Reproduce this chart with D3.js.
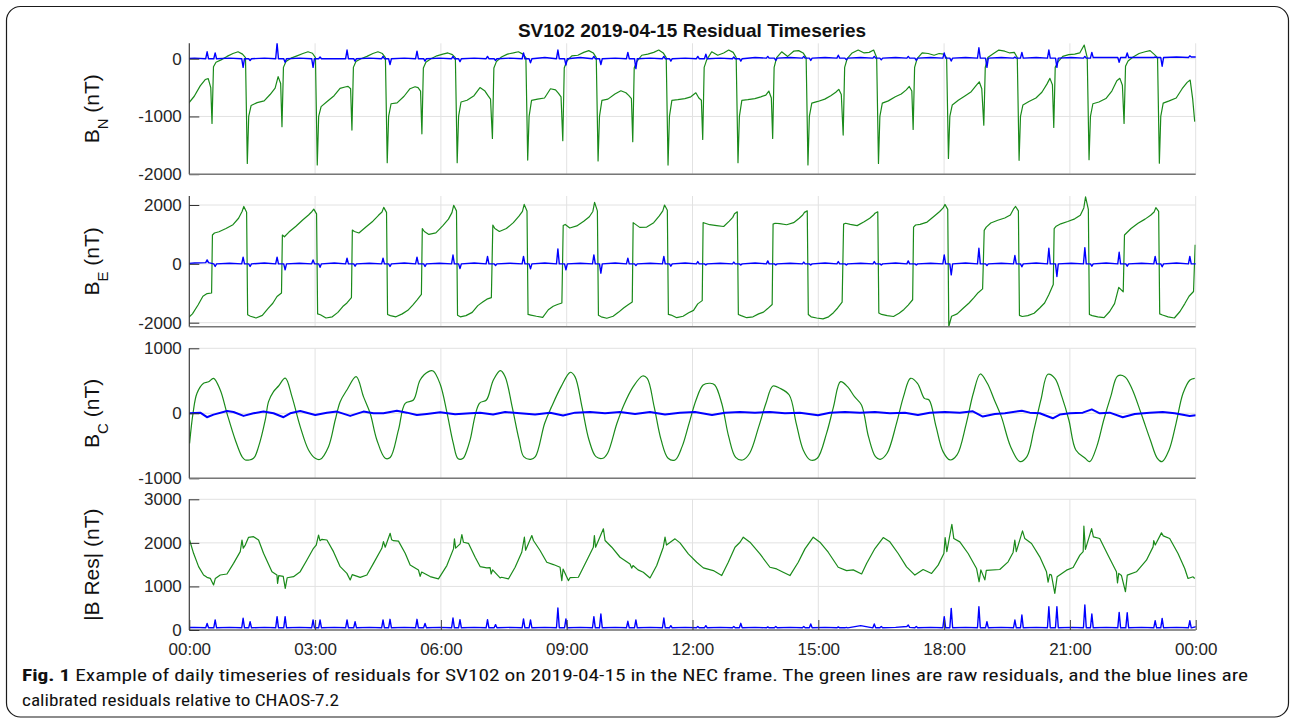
<!DOCTYPE html>
<html><head><meta charset="utf-8">
<script src="https://cdn.jsdelivr.net/npm/d3@7"></script>
<style>body{margin:0;background:#fff}svg{display:block}</style>
</head><body><svg id="c" width="1290" height="723"></svg>
<script>
const N = null;
// ---- axis ticks (time in minutes since 00:00) ----
const timeTicks = [0,180,360,540,720,900,1080,1260,1440];
const timeTickLabels = ["00:00","03:00","06:00","09:00","12:00","15:00","18:00","21:00","00:00"];
const bnTicks = [-2000,-1000,0];
const beTicks = [-2000,0,2000];
const bcTicks = [-1000,0,1000];
const bresTicks = [0,1000,2000,3000];
const titleText = "SV102 2019-04-15 Residual Timeseries";

// ---- orbit starts (minute of the southern/shallow polar crossing) ----
const orbitStart = [-67.5,32.5,132.6,232.7,332.8,433.7,534.4,634.5,734.6,834.7,935.6,1035.7,1136.8,1236.9,1337.5,1438.6];

// ---- B_N raw (green): sample minutes within each orbit, values per orbit ----
const bnOffsets = [0,2.1,5.7,12.9,21.5,30.0,37.2,43.6,47.9,50.5,52.5,56.0,64.6,74.6,83.1,90.3,94.6,98.2];
const bnRaw = [
 [N,N,N,N,N,N,N,N,N,N,N,N,-800,-650,-470,-360,-345,-500],
 [-1120,-140,-60,-20,40,90,120,80,20,-1813,-1000,-810,-760,-730,-620,-510,-310,-430],
 [-1178,-150,-50,10,50,90,120,95,20,-1840,-1000,-830,-740,-640,-513,-490,-480,-520],
 [-1236,-150,-50,0,40,90,120,90,20,-1800,-1000,-780,-765,-650,-520,-485,-500,-560],
 [-1300,-160,-60,0,50,80,100,70,20,-1800,-1000,-750,-720,-640,-500,-560,-640,-700],
 [-1380,-160,-50,30,80,100,120,80,20,-1755,-1000,-720,-700,-680,-520,-540,-600,-660],
 [-1420,-160,-40,50,60,110,140,100,20,-1770,-1000,-720,-700,-610,-555,-590,-640,-690],
 [-1437,-160,-50,60,80,110,150,100,20,-1842,-1000,-720,-710,-690,-660,-590,-680,-720],
 [-1398,-150,-20,120,60,100,150,110,20,-1800,-1000,-720,-710,-690,-660,-630,-560,-680],
 [-1380,-150,20,120,40,130,140,100,20,-1840,-1000,-770,-740,-700,-640,-580,-530,-620],
 [-1322,-150,0,100,150,100,110,150,20,-1813,-1000,-770,-730,-660,-610,-540,-480,-560],
 [-1224,-150,0,100,90,60,90,80,20,-1727,-1000,-800,-720,-640,-570,-460,-400,-520],
 [-1150,-150,20,80,150,130,100,110,20,-1760,-1000,-800,-740,-680,-580,-440,-340,-450],
 [-1190,-150,-60,40,70,80,100,237,20,-1750,-1000,-780,-750,-690,-560,-380,-340,-460],
 [-1120,-130,-40,30,90,120,140,70,20,-1810,-1000,-770,-730,-680,-520,-410,-370,-700],
 [-1090]
];

// ---- B_E raw (green) ----
const beOffsets = [0.6,3.5,10,20,30,38,43,45.5,49.5,51,55,63,72,80,87,93,99.4];
const beRaw = [
 [N,N,N,N,N,N,N,N,N,N,N,-1900,-1700,-1400,-1100,-1010,-990],
 [980,1050,1090,1200,1330,1550,1780,1950,1750,-1730,-1780,-1840,-1750,-1520,-1340,-1110,-990],
 [980,920,1080,1280,1500,1660,1780,1860,1700,-1700,-1730,-1840,-1800,-1650,-1450,-1330,-1150],
 [1150,1100,1050,1250,1450,1650,1760,1920,1750,-1720,-1760,-1800,-1700,-1580,-1400,-1230,-1040],
 [1200,1100,1000,1050,1300,1520,1740,1990,1800,-1750,-1800,-1760,-1650,-1420,-1300,-1200,-1150],
 [1320,1200,1100,1200,1400,1620,1780,2020,1800,-1720,-1740,-1780,-1820,-1560,-1440,-1380,-1330],
 [1300,1340,1220,1290,1450,1600,1780,2090,1800,-1750,-1800,-1850,-1780,-1640,-1500,-1400,-1300],
 [1400,1350,1240,1250,1400,1630,1800,2000,1820,-1720,-1740,-1830,-1780,-1660,-1580,-1360,-1250],
 [1400,1380,1330,1300,1270,1450,1580,1700,1770,-1720,-1760,-1830,-1800,-1700,-1640,-1520,-1380],
 [1350,1380,1370,1330,1400,1550,1660,1750,1800,-1720,-1800,-1840,-1870,-1800,-1660,-1500,-1300],
 [1350,1380,1340,1300,1430,1550,1650,1720,1770,-1670,-1720,-1760,-1790,-1680,-1550,-1400,-1220],
 [1250,1320,1340,1420,1620,1780,1900,2020,1850,-2130,-1780,-1700,-1500,-1330,-1150,-980,-850],
 [1140,1250,1390,1480,1560,1660,1880,1950,1800,-1750,-1790,-1760,-1680,-1500,-1330,-1050,-700],
 [1200,1280,1360,1440,1530,1650,1900,2280,1850,-1720,-1760,-1800,-1830,-1620,-1350,-800,-950],
 [980,1050,1200,1380,1520,1650,1760,1910,1780,-1700,-1740,-1800,-1840,-1620,-1350,-1100,-940],
 [650]
];

// ---- calibrated (blue) series: sample minutes within each orbit ----
const calOffsets = [-9,-7,-5,2.5,4.5,6.5,25,42.5,44.5,46.5,52.5,54.5,56.5,75];
const bnCal = [
 [N,N,N,N,N,N,N,N,N,N,N,0,0,10],
 [0,120,0,0,100,0,10,0,-150,0,0,-30,0,10],
 [0,267,0,0,-60,0,10,0,-150,0,0,30,0,0],
 [0,150,0,0,-40,0,10,0,40,0,0,-100,0,10],
 [0,130,0,0,-40,0,10,0,40,0,0,-50,0,10],
 [0,40,0,0,-30,0,10,0,100,0,0,-70,0,20],
 [0,150,0,0,-110,0,20,0,40,0,0,-100,0,10],
 [0,110,0,0,-170,0,10,0,40,0,0,-40,0,10],
 [0,40,0,0,80,0,10,0,30,0,0,-40,0,20],
 [10,40,10,10,-30,10,20,10,40,10,10,-30,10,20],
 [10,60,10,10,-20,10,20,10,40,10,10,-20,10,20],
 [10,40,10,10,-30,10,20,10,100,10,10,-40,10,20],
 [10,190,10,10,-150,10,20,10,30,10,10,110,10,20],
 [10,150,10,10,-150,10,20,10,40,10,10,110,20,20],
 [20,-60,20,20,100,20,20,20,30,20,20,-130,20,30],
 [20,50,30,30]
];
const beCal = [
 [N,N,N,N,N,N,N,N,N,N,N,0,0,30],
 [40,135,40,0,-90,0,20,0,226,0,0,-90,0,30],
 [0,226,0,0,-203,0,20,0,135,0,0,-115,0,30],
 [0,192,0,0,-80,0,20,0,192,0,0,-90,0,30],
 [0,226,0,0,-90,0,20,0,300,0,0,-160,0,30],
 [0,250,0,0,-60,0,20,0,250,0,0,-170,0,30],
 [0,508,0,0,-200,0,20,0,305,0,0,-317,0,30],
 [0,192,0,0,-60,0,20,0,250,0,0,-80,0,30],
 [0,80,0,0,-40,0,20,0,60,0,0,-40,0,30],
 [0,100,0,0,-40,0,20,0,60,0,0,-40,0,30],
 [0,80,0,0,-40,0,20,0,80,0,0,-40,0,30],
 [0,100,0,0,-40,0,20,0,305,0,0,-373,0,30],
 [0,530,0,0,-60,0,20,0,283,0,0,-100,0,30],
 [0,530,0,0,-430,0,20,0,553,0,0,-80,0,30],
 [0,395,0,0,-80,0,20,0,250,0,0,-100,0,30],
 [0,250,0,0]
];
const bresCal = [
 [N,N,N,N,N,N,N,N,N,N,N,50,50,60],
 [50,150,50,50,230,50,60,50,270,50,50,190,50,60],
 [50,306,50,50,306,50,60,50,230,50,50,230,50,60],
 [50,230,50,50,190,50,60,50,230,50,50,245,50,60],
 [50,245,50,50,150,50,60,50,276,50,50,237,50,60],
 [50,237,50,50,123,50,60,50,253,50,50,230,50,60],
 [50,506,50,50,253,50,60,50,306,50,50,368,50,60],
 [50,200,50,50,230,50,60,50,276,50,50,100,50,60],
 [50,80,50,50,100,50,60,50,80,50,50,153,50,60],
 [50,70,50,50,80,50,60,50,80,50,50,138,50,60],
 [50,70,50,50,60,50,100,50,137,50,50,80,50,60],
 [80,115,60,50,80,50,60,50,305,50,50,496,50,60],
 [50,534,50,50,190,50,60,50,229,50,50,343,50,60],
 [50,534,50,50,534,50,60,50,573,50,50,366,50,60],
 [50,405,50,50,397,50,60,50,214,50,50,267,50,60],
 [50,214,50,75]
];

// ---- B_C raw (green) [minute, nT] ----
const bcRaw = [[0.4,-462],[5.3,0],[11,308],[20.4,462],[27.6,485],[34.7,538],[44.3,358],[53.9,0],[65.8,-410],[75.4,-667],[80.1,-718],[91.9,-692],[99.1,-513],[108.7,-103],[113.4,179],[120.5,333],[127.7,420],[137.3,540],[146.9,256],[158.7,-205],[170.6,-564],[180.2,-692],[187.3,-708],[199.2,-513],[208.8,-103],[215.9,179],[225.5,359],[238.8,563],[249.2,256],[258.8,0],[268.4,-410],[280.3,-692],[287.4,-680],[299.3,-256],[308.9,154],[320.7,205],[330.3,513],[342.2,641],[348.9,650],[358.9,450],[368.9,0],[377.5,-450],[384.7,-700],[391.8,-690],[397.5,-560],[401.8,-410],[415.1,154],[425.1,205],[435.1,513],[445.2,656],[451.9,564],[461.9,103],[471.9,-410],[478.5,-667],[488.5,-708],[495.2,-667],[508.5,-154],[518.5,103],[532,410],[545.1,631],[551.8,564],[561.8,103],[571.9,-410],[581.9,-667],[591.9,-692],[598.5,-615],[611.9,-154],[621.8,128],[635.2,410],[648.5,574],[655.2,538],[665.1,103],[675.1,-410],[685.1,-692],[695.1,-718],[705.1,-513],[715.1,-154],[725.1,205],[735.2,436],[745.2,462],[751.9,436],[761.8,154],[771.8,-359],[781.8,-677],[791.8,-718],[801.8,-615],[814.8,-205],[825.1,154],[835.1,420],[845.1,385],[858.4,282],[868.4,-154],[878.4,-564],[888.5,-718],[898.5,-692],[911.8,-308],[921.8,103],[931.8,487],[941.8,410],[951.8,256],[961.8,128],[971.8,-359],[981.8,-667],[988.6,-708],[998.4,-615],[1011.9,-154],[1021.9,256],[1031.9,538],[1041.9,462],[1051.8,230],[1058.5,205],[1068.5,-205],[1078.5,-590],[1088.5,-718],[1098.5,-641],[1111.8,-154],[1121.8,308],[1131.8,605],[1141.8,462],[1151.9,205],[1161.9,-51],[1175.2,-513],[1188.5,-744],[1198.5,-667],[1208.5,-256],[1218.5,205],[1228.5,600],[1238.5,538],[1248.5,256],[1258.5,-103],[1268.5,-564],[1281.9,-692],[1288.4,-744],[1298.4,-513],[1308.4,-103],[1318.4,256],[1328.4,574],[1338.5,564],[1348.5,385],[1361.8,0],[1375.1,-410],[1385.1,-692],[1391.9,-744],[1401.9,-564],[1411.9,-154],[1421.9,308],[1431.9,513],[1438.6,538]];

// ---- B_C calibrated (blue) [minute, nT] ----
const bcCal = [[0,0],[15.7,10],[25.3,-60],[34.7,-20],[53.9,36],[63.3,20],[77.6,-40],[91.9,0],[106.2,26],[120.5,0],[134.8,-60],[144.4,0],[158.7,36],[180.2,-26],[196.9,10],[211.2,26],[230.2,-40],[249.2,26],[263.5,0],[277.8,0],[297,40],[311.3,10],[325.6,-26],[339.9,-10],[358.9,15],[380.4,-15],[401.8,0],[416.1,10],[434.7,-20],[451.9,20],[473.3,0],[494.8,-20],[516.2,10],[534.8,-35],[552,10],[573.4,20],[594.9,0],[616.3,20],[637.8,-10],[659.2,20],[680.7,-20],[702.1,10],[723.6,20],[747.9,-25],[766.5,10],[787.9,20],[809.4,10],[830.8,20],[852.3,0],[873.7,10],[899.5,-30],[916.6,10],[938.1,20],[959.5,10],[981,20],[1002.4,0],[1023.9,10],[1042.5,-25],[1059.6,10],[1081.1,20],[1102.5,10],[1121.1,30],[1135.4,-50],[1152.6,-10],[1166.9,0],[1191.2,40],[1202.6,10],[1216.9,0],[1235.5,-77],[1245.5,-20],[1259.8,0],[1278.4,10],[1291.3,60],[1302.7,0],[1317,10],[1335.6,-60],[1352.8,-10],[1374.2,10],[1392.8,20],[1410,0],[1431.4,-40],[1440,-30]];

// ---- |B Res| raw (green) [minute, nT] ----
const bresRaw = [[0.4,2066],[6.1,1760],[13.3,1454],[20.4,1262],[25.3,1209],[30,1186],[34.7,1033],[37.2,1180],[44.3,1262],[53.9,1285],[63.3,1530],[72.9,1798],[75.4,2066],[77.2,1880],[80.1,1950],[84.8,2127],[91.9,2142],[99.1,2066],[106.2,1760],[118.3,1339],[125.4,1262],[126.3,1071],[128,1250],[134.4,1230],[137.3,956],[140.1,1200],[149.1,1224],[158.7,1339],[168.3,1607],[177.7,1875],[181.6,1950],[184.9,2180],[187,2050],[189.8,2081],[196.9,2066],[206.3,1798],[215.9,1454],[225.5,1300],[230.2,1148],[233.1,1270],[244.5,1209],[254.1,1262],[263.5,1530],[275.5,1875],[277.8,2028],[280.3,1900],[287.4,2219],[289.6,2070],[292.1,2050],[299.3,2040],[308.9,1760],[316,1492],[327.9,1377],[330.3,1230],[332.5,1330],[344.6,1226],[356.5,1172],[368.5,1479],[378,1862],[379.4,2092],[381.1,1880],[387.5,1977],[390,2192],[392.2,2015],[399.4,1990],[409,1670],[416.1,1456],[425.7,1425],[430.4,1430],[431.9,1287],[434,1380],[444.7,1195],[446.9,1210],[456.6,1172],[466.2,1440],[475.7,1785],[479.5,2130],[481.2,1830],[490.1,2169],[492.4,2054],[501.9,1824],[511.5,1556],[521,1502],[530.5,1440],[533,1134],[534.8,1400],[542.4,1134],[544.8,1200],[556.7,1211],[568.7,1594],[578.1,1900],[579.6,2169],[581.3,1900],[592.5,2322],[594.9,2054],[604.5,1900],[616.3,1670],[630.6,1517],[633,1420],[634.9,1480],[642.1,1380],[649.6,1326],[659.2,1195],[668.8,1479],[678.2,1900],[680.7,2130],[682.8,1950],[695,2092],[702.1,2000],[714,1747],[726,1556],[735.5,1425],[749.8,1364],[761.8,1249],[771.2,1556],[780.8,1900],[788,2015],[792.7,2130],[802.2,2015],[816.5,1747],[830.8,1440],[840.4,1402],[849.8,1326],[859.4,1249],[871.3,1556],[880.9,1862],[892.8,2130],[902.3,2015],[914.2,1785],[928.5,1440],[940.5,1364],[950,1380],[962,1287],[969.1,1527],[981,1870],[992.9,2122],[1002.4,2023],[1014.3,1756],[1026.3,1450],[1038.2,1260],[1050,1389],[1062.1,1298],[1071.5,1489],[1079.7,1756],[1081.5,2122],[1083.9,1800],[1091.1,2427],[1093.9,2099],[1102.5,2023],[1114.4,1756],[1126.4,1412],[1130.1,1107],[1132.6,1380],[1138.3,1150],[1140.4,1370],[1159.7,1389],[1171.6,1565],[1178.7,1780],[1181.2,2061],[1183.3,1800],[1192.2,2275],[1195.5,2099],[1205.1,1985],[1216.9,1679],[1226.5,1336],[1228.8,1100],[1231.2,1280],[1233.6,1260],[1238.4,840],[1241.7,1220],[1255.2,1374],[1264.6,1435],[1274.3,1718],[1279,1800],[1280,2382],[1282.2,1850],[1291.1,2328],[1293.6,2137],[1302.7,2100],[1314.6,1718],[1326.6,1336],[1328.1,1080],[1329.9,1300],[1333.8,1250],[1339.5,878],[1342.1,1260],[1355.2,1336],[1369.5,1603],[1379,1908],[1380,2050],[1382.1,1950],[1391,2229],[1393.6,2160],[1402.8,2099],[1414.7,1756],[1424.3,1412],[1429,1183],[1436.2,1221],[1438.6,1183]];

const captionBold = "Fig. 1";
const captionLine1 = "Example of daily timeseries of residuals for SV102 on 2019-04-15 in the NEC frame. The green lines are raw residuals, and the blue lines are";
const captionLine2 = "calibrated residuals relative to CHAOS-7.2";

// ---- build point lists from orbit tables ----
function orbitSeries(offsets, rows){
  const pts = [];
  rows.forEach((row,k)=>row.forEach((v,j)=>{ if(v!==null) pts.push([orbitStart[k]+offsets[j], v]); }));
  return pts;
}

const svg = d3.select("#c");
const FONT = "'Liberation Sans', Arial, Helvetica, sans-serif";
const TXT = "#262626";
const GREEN = "#1a8a1a", BLUE = "#0000ff";

// frame
svg.append("rect").attr("x",6.5).attr("y",6.5).attr("width",1282).attr("height",710.5)
  .attr("rx",14).attr("fill","none").attr("stroke","#1a1a1a").attr("stroke-width",1.2);

// title
svg.append("text").attr("x",692).attr("y",36.5).attr("text-anchor","middle")
  .attr("font-family",FONT).attr("font-weight","bold").attr("font-size",19).attr("fill","#111")
  .text(titleText);

const x = d3.scaleLinear().domain([0,1440]).range([189.3,1195.7]);

const panels = [
  {id:"bn", dom:[-2000,267], rng:[174.2,43.3], ticks:bnTicks, label:["B","N"],
   green:orbitSeries(bnOffsets,bnRaw), blue:orbitSeries(calOffsets,bnCal), last:false},
  {id:"be", dom:[-2136,2306], rng:[326.7,196], ticks:beTicks, label:["B","E"],
   green:orbitSeries(beOffsets,beRaw), blue:orbitSeries(calOffsets,beCal), last:false},
  {id:"bc", dom:[-1000,1000], rng:[478.3,348.3], ticks:bcTicks, label:["B","C"],
   green:bcRaw, blue:bcCal, last:false, smooth:true},
  {id:"br", dom:[0,3000], rng:[630,499.3], ticks:bresTicks, label:null,
   green:bresRaw, blue:orbitSeries(calOffsets,bresCal), last:true}
];

const defs = svg.append("defs");
panels.forEach(p=>{
  const y = d3.scaleLinear().domain(p.dom).range(p.rng);
  const g = svg.append("g");
  const top = p.rng[1], bot = p.rng[0];
  const x0 = x.range()[0], x1 = x.range()[1];
  defs.append("clipPath").attr("id","clip-"+p.id).append("rect")
    .attr("x",x0).attr("y",top).attr("width",x1-x0).attr("height",bot-top);
  // grid
  g.selectAll(".gx").data(timeTicks).enter().append("line")
    .attr("x1",d=>x(d)).attr("x2",d=>x(d)).attr("y1",top).attr("y2",bot)
    .attr("stroke","#e2e2e2").attr("stroke-width",1);
  g.selectAll(".gy").data(p.ticks).enter().append("line")
    .attr("x1",x0).attr("x2",x1).attr("y1",d=>y(d)).attr("y2",d=>y(d))
    .attr("stroke","#e2e2e2").attr("stroke-width",1);
  // lines
  const lg = g.append("g").attr("clip-path","url(#clip-"+p.id+")");
  const lineG = d3.line().x(d=>x(d[0])).y(d=>y(d[1]));
  if(p.smooth) lineG.curve(d3.curveCatmullRom.alpha(0.5));
  lg.append("path").attr("d",lineG(p.green)).attr("fill","none")
    .attr("stroke",GREEN).attr("stroke-width",1.2).attr("stroke-linejoin","round");
  const lineB = d3.line().x(d=>x(d[0])).y(d=>y(d[1]));
  lg.append("path").attr("d",lineB(p.blue)).attr("fill","none")
    .attr("stroke",BLUE).attr("stroke-width",p.id==="bc"?2.0:1.4).attr("stroke-linejoin","round");
  // left axis
  const ya = d3.axisLeft(y).tickValues(p.ticks).tickSize(-10).tickPadding(17).tickFormat(d=>String(d));
  const axL = svg.append("g").attr("transform",`translate(${x0},0)`).call(ya);
  axL.select(".domain").remove();
  axL.selectAll(".tick line").attr("stroke","#333");
  axL.selectAll(".tick text").attr("font-family",FONT).attr("font-size",17).attr("fill",TXT)
     .attr("x",-7.5);
  svg.append("line").attr("x1",x0).attr("x2",x0).attr("y1",top).attr("y2",bot)
    .attr("stroke","#333").attr("stroke-width",1.1);
  // bottom axis
  if(p.last){
    const xa = d3.axisBottom(x).tickValues(timeTicks).tickSize(-10).tickPadding(13)
      .tickFormat((d,i)=>timeTickLabels[i]);
    const axB = svg.append("g").attr("transform",`translate(0,${bot})`).call(xa);
    axB.select(".domain").remove();
    axB.selectAll(".tick line").attr("stroke","#444");
    axB.selectAll(".tick text").attr("font-family",FONT).attr("font-size",17).attr("fill",TXT);
    svg.append("line").attr("x1",x0).attr("x2",x1).attr("y1",bot).attr("y2",bot)
      .attr("stroke","#333").attr("stroke-width",1.1);
  } else {
    svg.append("line").attr("x1",x0).attr("x2",x1).attr("y1",bot).attr("y2",bot)
      .attr("stroke","#777").attr("stroke-width",1.6);
  }
  // y label
  const cy = (top+bot)/2;
  const t = svg.append("text").attr("transform",`translate(99,${cy}) rotate(-90)`)
    .attr("text-anchor","middle").attr("font-family",FONT).attr("font-size",21).attr("fill","#111");
  if(p.label){
    t.append("tspan").text(p.label[0]);
    t.append("tspan").attr("font-size",15).attr("dy",9).text(p.label[1]);
    t.append("tspan").attr("dy",-9).text(" (nT)");
  } else {
    t.text("|B Res| (nT)");
  }
});

// caption
const CAP = "'Liberation Sans Narrow','Arial Narrow','Roboto Condensed','Liberation Sans',Arial,sans-serif";
const c1 = svg.append("text").attr("x",22).attr("y",681).attr("font-family",CAP).attr("font-size",17)
  .attr("fill","#111").attr("textLength",1226).attr("lengthAdjust","spacingAndGlyphs");
c1.append("tspan").attr("font-weight","bold").text(captionBold);
c1.append("tspan").text("  " + captionLine1);
svg.append("text").attr("x",22).attr("y",706).attr("font-family",CAP).attr("font-size",17)
  .attr("fill","#111").attr("textLength",317).attr("lengthAdjust","spacingAndGlyphs").text(captionLine2);
</script></body></html>
